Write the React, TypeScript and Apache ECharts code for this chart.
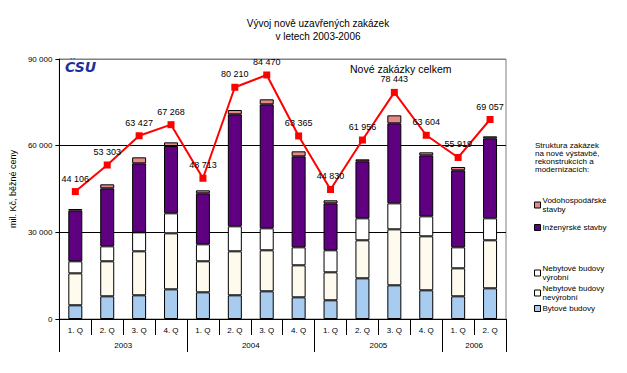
import React, { useEffect, useRef } from "react";
import * as echarts from "echarts";

const quarters = ["1. Q", "2. Q", "3. Q", "4. Q", "1. Q", "2. Q", "3. Q", "4. Q", "1. Q", "2. Q", "3. Q", "4. Q", "1. Q", "2. Q"];
const years = ["2003", "2004", "2005", "2006"];
const yearQuarterCounts = [4, 4, 4, 2];

const bytove = [4740, 7850, 8200, 10270, 9230, 8200, 9580, 7500, 6470, 14080, 11660, 9930, 7850, 10620];
const nebytNevyrobni = [11060, 12120, 15230, 19380, 10740, 15230, 14200, 11080, 9690, 13160, 19380, 18690, 9690, 16620];
const nebytVyrobni = [4170, 5190, 6570, 6930, 5880, 8650, 7610, 6230, 7620, 7610, 9000, 6920, 7270, 7610];
const inzenyrske = [17530, 20070, 23880, 23300, 17650, 38770, 42910, 31490, 16260, 19730, 27690, 21110, 26650, 27690];
const vodohosp = [580, 1390, 2080, 1270, 1040, 1500, 1740, 1740, 1040, 690, 2770, 1040, 1160, 690];
const celkem = [44106, 53303, 63427, 67268, 48713, 80210, 84470, 63365, 44830, 61956, 78443, 63604, 55919, 69057];

const yTicks = [0, 30000, 60000, 90000];

const fmt = (v: number) => String(v).replace(/\B(?=(\d{3})+(?!\d))/g, " ");
const FONT = "Arial, 'Liberation Sans', sans-serif";

export default function App() {
  const ref = useRef<HTMLDivElement>(null);
  useEffect(() => {
    if (!ref.current) return;
    const chart = echarts.init(ref.current, undefined, { renderer: "svg" });

    const bounds: number[] = [0];
    const centers: number[] = [];
    yearQuarterCounts.forEach((c) => {
      const start = bounds[bounds.length - 1];
      centers.push(start + c / 2);
      bounds.push(start + c);
    });

    const barStyle = (color: string) => ({ color, borderColor: "#000", borderWidth: 1 });

    const legendItems = [
      { name: "Vodohospodářské\nstavby", top: 191 },
      { name: "Inženýrské stavby", top: 218 },
      { name: "Nebytové budovy\nvýrobní", top: 259 },
      { name: "Nebytové budovy\nnevýrobní", top: 279 },
      { name: "Bytové budovy", top: 299 },
    ];

    chart.setOption({
      animation: false,
      backgroundColor: "#fff",
      title: {
        text: "Vývoj nově uzavřených zakázek\nv letech 2003-2006",
        left: 313,
        textAlign: "center",
        top: 12,
        textStyle: { fontSize: 10, fontWeight: "normal", color: "#000", fontFamily: FONT, lineHeight: 13 },
      },
      grid: { left: 58, right: 121, top: 59, bottom: 54, show: true, borderColor: "#808080", borderWidth: 1 },
      legend: legendItems.map((l) => ({
        data: [l.name],
        left: 529,
        top: l.top,
        orient: "vertical",
        icon: "rect",
        itemWidth: 6,
        itemHeight: 6,
        itemGap: 4,
        selectedMode: false,
        itemStyle: { borderColor: "#000", borderWidth: 1 },
        textStyle: { fontSize: 8, color: "#000", fontFamily: FONT, lineHeight: 9, padding: [0, 0, 0, -3] },
      })),
      graphic: [
        {
          type: "text",
          left: 535,
          top: 141,
          style: {
            text: "Struktura zakázek\nna nové výstavbě,\nrekonstrukcích a\nmodernizacích:",
            fontSize: 8,
            lineHeight: 8,
            fill: "#000",
            fontFamily: FONT,
          },
        },
        {
          type: "text",
          left: 350,
          top: 63,
          style: { text: "Nové zakázky celkem", fontSize: 10.5, fill: "#000", fontFamily: FONT },
        },
        {
          type: "text",
          left: 65,
          top: 60,
          style: {
            text: "ČSU",
            fontSize: 14,
            fontWeight: 900,
            fontStyle: "italic",
            fill: "#1E2F9E",
            fontFamily: "'DejaVu Sans', sans-serif",
          },
        },
      ],
      xAxis: [
        {
          type: "category",
          data: quarters,
          position: "bottom",
          axisLine: { lineStyle: { color: "#000", width: 1 } },
          axisTick: { show: true, length: 16, lineStyle: { color: "#000" } },
          axisLabel: { fontSize: 8, color: "#000", margin: 7, fontFamily: FONT, interval: 0 },
        },
        {
          type: "value",
          min: 0,
          max: quarters.length,
          position: "bottom",
          axisLine: { show: false },
          splitLine: { show: false },
          axisTick: { show: true, length: 33, customValues: bounds, lineStyle: { color: "#000" } },
          axisLabel: {
            show: true,
            customValues: centers,
            margin: 22,
            fontSize: 8,
            color: "#000",
            fontFamily: FONT,
            formatter: (v: number) => {
              const i = centers.indexOf(v);
              return i >= 0 ? years[i] : "";
            },
          },
        },
      ],
      yAxis: {
        type: "value",
        min: yTicks[0],
        max: yTicks[yTicks.length - 1],
        interval: 30000,
        name: "mil. Kč, běžné ceny",
        nameLocation: "middle",
        nameRotate: 90,
        nameGap: 31,
        nameTextStyle: { fontSize: 9, color: "#000", fontFamily: FONT },
        axisLine: { show: true, lineStyle: { color: "#000" } },
        axisTick: { show: true, length: 4, lineStyle: { color: "#000" } },
        axisLabel: { fontSize: 8, color: "#000", margin: 7, fontFamily: FONT, formatter: (v: number) => fmt(v) },
        splitLine: { show: true, lineStyle: { color: ["#000", "#000", "#000", "#808080"], width: 1 } },
      },
      series: [
        { name: "Bytové budovy", type: "bar", stack: "s", barWidth: 14, data: bytove, itemStyle: barStyle("#A8CCF0") },
        { name: "Nebytové budovy\nnevýrobní", type: "bar", stack: "s", barWidth: 14, data: nebytNevyrobni, itemStyle: barStyle("#FFFAEE") },
        { name: "Nebytové budovy\nvýrobní", type: "bar", stack: "s", barWidth: 14, data: nebytVyrobni, itemStyle: barStyle("#FFFFFF") },
        { name: "Inženýrské stavby", type: "bar", stack: "s", barWidth: 14, data: inzenyrske, itemStyle: barStyle("#5E0080") },
        { name: "Vodohospodářské\nstavby", type: "bar", stack: "s", barWidth: 14, data: vodohosp, itemStyle: barStyle("#E08A8A") },
        {
          name: "Nové zakázky celkem",
          type: "line",
          data: celkem,
          z: 5,
          symbol: "rect",
          symbolSize: 7,
          lineStyle: { color: "#FF0000", width: 2 },
          itemStyle: { color: "#FF0000" },
          label: {
            show: true,
            position: "top",
            distance: 5,
            fontSize: 9,
            color: "#000",
            fontFamily: FONT,
            formatter: (p: any) => fmt(p.value),
          },
        },
      ],
    });
    return () => chart.dispose();
  }, []);
  return <div ref={ref} style={{ position: "fixed", left: 0, top: 0, width: 627, height: 373 }} />;
}
